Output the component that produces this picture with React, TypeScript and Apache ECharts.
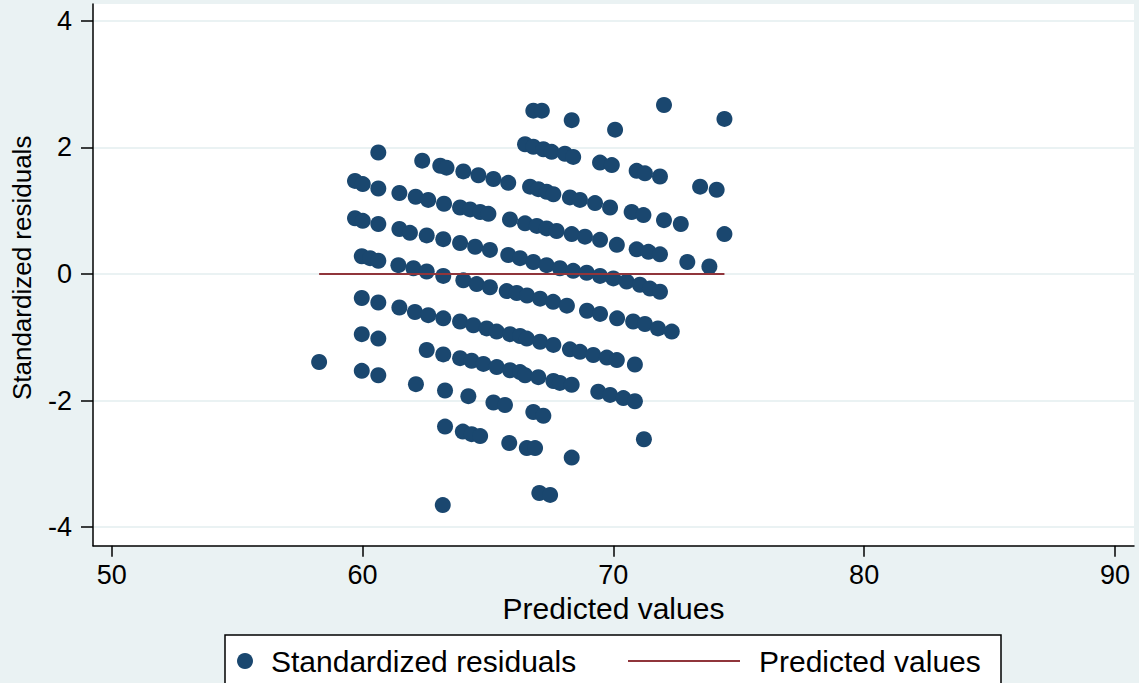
import React, { useEffect, useRef } from "react";
import * as echarts from "echarts";

// Tick values
const xTickValues = [50, 60, 70, 80, 90];
const yTickValues = [-4, -2, 0, 2, 4];

// Standardized residuals vs predicted values
const rowTop: [number, number][] = [
  [66.81, 2.58], [67.15, 2.58], [68.34, 2.43], [70.07, 2.28], [72.02, 2.67], [74.43, 2.45],
];
const rowA: [number, number][] = [
  [66.48, 2.05], [66.81, 2.01], [67.21, 1.97], [67.54, 1.93], [68.07, 1.9], [68.4, 1.85],
  [69.47, 1.76], [69.94, 1.72], [70.93, 1.63], [71.26, 1.59], [71.86, 1.54], [73.46, 1.38], [74.12, 1.33],
];
const rowB: [number, number][] = [
  [60.63, 1.92], [62.38, 1.79], [63.1, 1.71], [63.35, 1.68], [64.02, 1.62], [64.62, 1.56],
  [65.22, 1.5], [65.81, 1.44], [66.68, 1.38], [67.01, 1.34], [67.34, 1.3], [67.61, 1.26],
  [68.27, 1.21], [68.67, 1.17], [69.27, 1.12], [69.87, 1.05], [70.73, 0.98], [71.2, 0.93],
  [72.02, 0.85], [72.69, 0.79], [74.43, 0.63],
];
const rowC: [number, number][] = [
  [59.7, 1.47], [60.01, 1.42], [60.63, 1.35], [61.47, 1.28], [62.12, 1.22], [62.62, 1.17],
  [63.25, 1.11], [63.89, 1.05], [64.29, 1.02], [64.69, 0.98], [65.02, 0.95], [65.88, 0.86],
  [66.48, 0.8], [66.95, 0.76], [67.34, 0.72], [67.74, 0.68], [68.34, 0.63], [68.87, 0.59],
  [69.47, 0.54], [70.14, 0.46], [70.93, 0.39], [71.4, 0.35], [71.86, 0.31], [72.95, 0.19], [73.83, 0.12],
];
const rowD: [number, number][] = [
  [59.7, 0.88], [60.01, 0.84], [60.63, 0.79], [61.47, 0.71], [61.89, 0.65], [62.56, 0.61],
  [63.22, 0.55], [63.89, 0.49], [64.49, 0.43], [65.08, 0.38], [65.81, 0.3], [66.28, 0.25],
  [66.81, 0.19], [67.34, 0.14], [67.87, 0.09], [68.4, 0.05], [68.94, 0.02], [69.47, -0.03],
  [70.0, -0.07], [70.53, -0.12], [71.06, -0.17], [71.46, -0.23], [71.86, -0.28],
];
const rowE: [number, number][] = [
  [59.97, 0.28], [60.3, 0.25], [60.63, 0.21], [61.43, 0.14], [62.03, 0.09], [62.56, 0.04],
  [63.22, -0.03], [64.02, -0.1], [64.55, -0.16], [65.08, -0.21], [65.75, -0.27], [66.15, -0.3],
  [66.56, -0.34], [67.08, -0.39], [67.6, -0.44], [68.15, -0.5], [68.95, -0.58], [69.47, -0.63],
  [70.15, -0.7], [70.79, -0.75], [71.26, -0.79], [71.78, -0.86], [72.33, -0.91],
];
const rowF: [number, number][] = [
  [59.97, -0.38], [60.63, -0.45], [61.47, -0.53], [62.09, -0.6], [62.62, -0.65], [63.22, -0.7],
  [63.89, -0.75], [64.42, -0.81], [64.95, -0.86], [65.35, -0.91], [65.88, -0.95], [66.28, -0.98],
  [66.55, -1.02], [67.08, -1.07], [67.61, -1.12], [68.27, -1.19], [68.67, -1.23], [69.2, -1.28],
  [69.74, -1.32], [70.14, -1.36], [70.86, -1.43],
];
const rowG: [number, number][] = [
  [59.97, -0.95], [60.63, -1.02], [62.56, -1.2], [63.22, -1.27], [63.89, -1.33], [64.35, -1.37],
  [64.82, -1.42], [65.35, -1.47], [65.88, -1.52], [66.28, -1.55], [66.48, -1.6], [67.01, -1.63],
  [67.61, -1.69], [67.87, -1.72], [68.34, -1.75], [69.4, -1.86], [69.87, -1.91], [70.4, -1.96], [70.86, -2.01],
];
const rowH: [number, number][] = [
  [58.27, -1.39], [59.97, -1.53], [60.63, -1.6], [62.13, -1.74], [63.29, -1.84], [64.22, -1.93],
  [65.22, -2.03], [65.68, -2.07], [66.81, -2.18], [67.21, -2.24], [71.22, -2.61],
];
const rowI: [number, number][] = [
  [63.29, -2.41], [64.0, -2.49], [64.35, -2.53], [64.69, -2.56], [65.85, -2.67], [66.55, -2.75],
  [66.88, -2.75], [68.34, -2.9],
];
const rowJ: [number, number][] = [[67.05, -3.46], [67.48, -3.49]];
const rowK: [number, number][] = [[63.2, -3.65]];

const residuals = [
  ...rowTop, ...rowA, ...rowB, ...rowC, ...rowD, ...rowE, ...rowF, ...rowG, ...rowH, ...rowI, ...rowJ, ...rowK,
];

// Zero line across the range of predicted values
const predictedLine: [number, number][] = [[58.27, 0], [74.43, 0]];

const FONT = "'Liberation Sans', Arial, sans-serif";
const NAVY = "#1A476F";
const MAROON = "#90353B";
const BG = "#EAF2F3";

export default function App() {
  const ref = useRef<HTMLDivElement>(null);

  useEffect(() => {
    if (!ref.current) return;
    const chart = echarts.init(ref.current, null, { renderer: "svg" });
    chart.setOption({
      animation: false,
      backgroundColor: BG,
      textStyle: { fontFamily: FONT },
      grid: {
        left: 93,
        right: 5,
        top: 4,
        bottom: 137.3,
        show: true,
        backgroundColor: "#ffffff",
        borderWidth: 0,
        containLabel: false,
        outerBoundsMode: "none",
      },
      xAxis: {
        type: "value",
        min: 49.254,
        max: 90.76,
        name: "Predicted values",
        nameLocation: "middle",
        nameGap: 33,
        nameTextStyle: { fontSize: 30, color: "#000", fontFamily: FONT },
        axisLine: { show: true, onZero: false, lineStyle: { color: "#000", width: 1.5 } },
        axisTick: { show: true, length: 11, customValues: xTickValues, lineStyle: { color: "#000", width: 1.5 } },
        axisLabel: { customValues: xTickValues, fontSize: 27, color: "#000", margin: 16, fontFamily: FONT },
        splitLine: { show: false },
      },
      yAxis: {
        type: "value",
        min: -4.292,
        max: 4.265,
        name: "Standardized residuals",
        nameLocation: "middle",
        nameGap: 58,
        nameTextStyle: { fontSize: 26, color: "#000", fontFamily: FONT, padding: [0, 0, 0, 14] },
        axisLine: { show: true, onZero: false, lineStyle: { color: "#000", width: 1.5 } },
        axisTick: { show: true, length: 12, customValues: yTickValues, lineStyle: { color: "#000", width: 1.5 } },
        axisLabel: { customValues: yTickValues, fontSize: 27, color: "#000", margin: 21, fontFamily: FONT },
        splitLine: { show: true, lineStyle: { color: BG, width: 2 } },
      },
      graphic: [
        {
          type: "rect",
          z: 1,
          shape: { x: 225, y: 635, width: 776, height: 70 },
          style: { fill: "#ffffff", stroke: "#000", lineWidth: 1.5 },
        },
      ],
      legend: [
        {
          data: ["Standardized residuals"],
          left: 237,
          top: 646,
          padding: 0,
          itemWidth: 42,
          itemHeight: 16,
          icon: "circle",
          selectedMode: false,
          z: 5,
          textStyle: { fontSize: 30, color: "#000", fontFamily: FONT },
        },
        {
          data: ["Predicted values"],
          left: 628,
          top: 646,
          padding: 0,
          itemWidth: 112,
          itemHeight: 2,
          icon: "rect",
          selectedMode: false,
          z: 5,
          textStyle: { fontSize: 30, color: "#000", fontFamily: FONT, padding: [0, 0, 0, 14] },
        },
      ],
      series: [
        {
          name: "Standardized residuals",
          type: "scatter",
          symbol: "circle",
          symbolSize: 16,
          itemStyle: { color: NAVY, opacity: 1 },
          data: residuals,
        },
        {
          name: "Predicted values",
          type: "line",
          symbol: "none",
          showSymbol: false,
          lineStyle: { color: MAROON, width: 2 },
          itemStyle: { color: MAROON },
          data: predictedLine,
        },
      ],
    });
    return () => chart.dispose();
  }, []);

  return (
    <div
      ref={ref}
      style={{ position: "fixed", left: 0, top: 0, width: 1139, height: 683 }}
    />
  );
}
